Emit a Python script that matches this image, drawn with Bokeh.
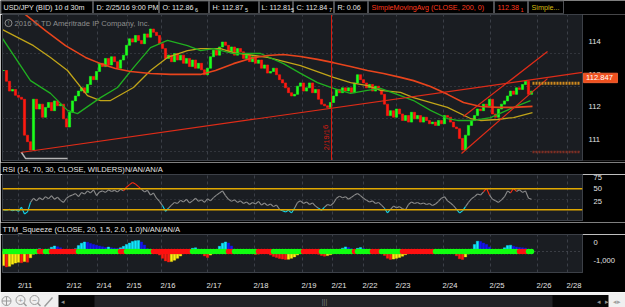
from bokeh.plotting import figure
from bokeh.layouts import column
from bokeh.models import (Range1d, LinearAxis, FixedTicker, Span, Grid,
                          NumeralTickFormatter, ColumnDataSource)
from bokeh.core.properties import value
from bokeh.embed import file_html
from bokeh.resources import INLINE

# ------------------------------------------------------------------ data
symbol_title = "USD/JPY (BID) 10 d 30m"
last_time = "D: 2/25/16 9:00 PM"
last_open, last_high, last_low = 112.866, 112.875, 112.815
last_range = 0.06
sma200_label = "SimpleMovingAvg (CLOSE, 200, 0)"

date_ticks = [18, 67, 97, 127, 161, 207, 254, 302, 332, 363, 396, 443, 490, 537, 567]
date_labels = ["2/11", "2/12", "2/14", "2/15", "2/16", "2/17", "2/18", "2/19",
               "2/21", "2/22", "2/23", "2/24", "2/25", "2/26", "2/28"]
price_ticks = [111, 112, 113, 114]
rsi_ticks = [25, 50, 75]
squeeze_ticks = [-1000, 0]

bar_start = 3      # first sampled bar index
bar_step = 3       # bars between samples

closes = [
    113.48, 113.15, 112.85, 112.90, 112.72, 112.66, 112.60, 111.50, 111.30, 111.05,
    112.60, 112.30, 112.45, 112.05, 112.35, 112.50, 112.25, 112.55, 112.40, 112.45,
    112.00, 111.75, 112.20, 112.55, 112.70, 112.85, 112.95, 112.80, 113.05, 113.30,
    113.20, 113.45, 113.70, 113.60, 113.85, 113.65, 113.90, 113.75, 113.55, 113.80,
    113.95, 114.25, 114.45, 114.35, 114.55, 114.40, 114.30, 114.60, 114.50, 114.75,
    114.65, 114.55, 114.30, 114.15, 113.85, 113.95, 113.75, 114.00, 113.80, 113.95,
    113.70, 113.85, 113.60, 113.80, 113.55, 113.70, 113.50, 113.35, 113.55, 113.90,
    114.10, 113.95, 114.20, 114.35, 114.25, 114.05, 114.20, 113.95, 114.15, 114.05,
    113.85, 113.95, 113.75, 113.90, 113.70, 113.80, 113.55, 113.65, 113.40, 113.45,
    113.55, 113.35, 113.20, 113.10, 112.95, 112.80, 112.70, 112.75, 113.00, 113.10,
    112.85, 112.95, 113.10, 112.80, 112.90, 112.60, 112.45, 112.40, 112.35, 112.50,
    112.70, 112.90, 112.80, 112.95, 112.85, 112.95, 112.80, 113.10, 113.35, 113.20,
    113.10, 112.95, 113.05, 112.85, 113.00, 112.90, 112.75, 112.45, 112.10, 112.25,
    112.05, 112.30, 112.15, 111.95, 112.10, 111.90, 112.20, 112.00, 112.10, 111.90,
    112.05, 111.95, 111.85, 111.90, 111.80, 111.95, 111.85, 112.10, 112.05, 111.90,
    111.75, 111.70, 111.40, 111.05, 111.50, 111.80, 111.95, 112.10, 112.30, 112.25,
    112.45, 112.40, 112.60, 112.15, 112.05, 112.30, 112.45, 112.55, 112.70, 112.85,
    112.75, 112.95, 112.90, 113.05, 113.15, 112.75, 112.847,
]

sma200_x = [18, 25, 45, 65, 85, 100, 115, 130, 150, 170, 200, 215, 233, 250, 267, 283,
            300, 317, 333, 350, 367, 383, 400, 413, 430, 447, 463, 480, 497, 513, 532]
sma200 = [115.40, 115.19, 114.70, 114.24, 113.88, 113.69, 113.54, 113.45, 113.39, 113.36,
          113.36, 113.48, 113.69, 113.85, 113.94, 113.97, 113.91, 113.82, 113.72, 113.60,
          113.48, 113.39, 113.27, 113.17, 112.99, 112.75, 112.50, 112.38, 112.35, 112.35, 112.381]

sma_yellow_x = [2, 33, 50, 67, 87, 100, 110, 133, 150, 167, 187, 200, 220, 233, 267, 300,
                333, 350, 367, 380, 400, 413, 447, 470, 480, 497, 513, 532]
sma_yellow = [114.73, 114.24, 113.88, 113.48, 112.71, 112.56, 112.56, 112.96, 113.48, 113.88,
              114.09, 114.15, 114.15, 114.03, 113.88, 113.63, 113.27, 113.11, 113.02, 112.87,
              112.81, 112.65, 112.35, 112.01, 111.95, 111.98, 112.04, 112.19]

sma_green_x = [2, 30, 50, 67, 77, 100, 117, 133, 150, 167, 187, 200, 213, 233, 260, 283,
               300, 317, 333, 350, 367, 380, 400, 413, 430, 447, 457, 473, 490, 513, 530]
sma_green = [114.46, 113.17, 112.78, 112.26, 112.16, 112.65, 112.96, 113.57, 114.18, 114.40,
             114.24, 114.09, 114.15, 114.00, 114.00, 113.69, 113.39, 113.11, 112.93, 112.78,
             112.87, 112.93, 112.71, 112.56, 112.26, 112.01, 111.95, 111.95, 112.04, 112.35, 112.56]

trend_x, trend_y = [20, 582], [110.97, 113.42]
chan_up_x, chan_up_y = [463, 547], [112.07, 114.06]
chan_lo_x, chan_lo_y = [461, 547], [110.94, 113.23]
marker_bar, marker_text = 331, "2/19/16"
level_x = [532, 580]
level_orange = 113.09
level_dark = 110.985

rsi = [
    30, 29, 31, 28, 30, 27, 35, 22, 26, 44, 52,
    47, 53, 49, 55, 51, 57, 50, 54, 48, 44, 52, 56,
    58, 61, 55, 63, 60, 66, 62, 68, 57, 64,
    66, 63, 68, 65, 67, 64, 69, 66,
    73, 78, 82, 79, 74,
    69, 64, 67, 58, 62, 52, 46, 38, 27, 33,
    39, 44, 42, 48, 45, 50, 43, 47, 52, 46, 49, 44, 51, 47, 53, 58, 62, 66, 57, 50,
    46, 49, 44, 47, 42, 45, 40, 44, 41, 46, 39, 43, 38, 41, 36, 39,
    31, 28, 26, 29, 24, 33,
    44, 47, 42, 45, 40, 43, 37, 33, 29, 35, 40, 38, 43,
    52, 56, 53, 55, 50, 54, 58, 61, 57,
    52, 48, 45, 47, 42, 44, 39, 33,
    24, 31, 37, 34, 36, 32, 30,
    40, 45, 42, 44, 41, 43, 40, 42, 38, 41, 46, 52, 55, 47, 43, 38, 31, 24, 28,
    36, 44, 51, 55, 60, 58, 64, 71, 58, 50, 47, 44, 49, 55, 66, 62, 71, 65, 68, 63, 66, 52, 50,
]
rsi_overbought, rsi_oversold = 70, 30

squeeze_hist = [
    -780, -850, -820, -700, -640, -600, -620, -560, -590, -350, -150,
    60, 150, 90, -30,
    120, 230, 300, 260, 200, 40,
    -60, -120,
    40, 150, 320, 450, 520, 500, 430, 380, 340, 300,
    260, 220, 240, 200, 180, 160, 200,
    280, 380, 460, 540, 590, 600, 520, 350, 150,
    30, -20, -80,
    -200, -380, -520, -580, -560, -480, -380, -250, -120, -40,
    60, 170, 200, 120,
    -80, -250, -330, -200,
    -60, 80, 280, 450, 520, 460, 300, 120,
    30, 10, -20, -40, -60,
    -120, -170, -140, -90,
    -60, -110, -200,
    -280, -340, -390, -420, -440, -430, -380, -300, -200, -90, -30,
    -20, -40, -60,
    -90, -150, -220, -260, -230, -180, -100, -30,
    60, 180, 250, 220, 150,
    60, 170, 210, 160, 60,
    -20, -80, -120, -90, -60,
    -220, -380, -440, -420, -380, -330, -260, -180, -80,
    -10, -20, -10, 0, -10, -20, -30,
    -60, -110, -90, -50,
    -20, -30, -40, -60,
    -240, -400, -440, -300, -140,
    120, 380, 560, 540, 460, 380, 250, 100,
    -40, -60,
    40, 200, 320, 340, 290, 250, 220, 200, 180, 120, 60,
]
# squeeze state runs: (1 = fired / green dot, 0 = squeeze on / red dot, number of samples)
squeeze_runs = [(1, 12), (0, 2), (1, 2), (0, 9), (1, 14), (0, 2), (1, 9), (0, 13), (1, 12),
                (0, 2), (1, 8), (0, 5), (1, 10), (0, 6), (1, 11), (0, 1), (1, 5), (0, 3),
                (1, 7), (0, 11), (1, 28), (0, 3), (1, 2)]

# ------------------------------------------------------------------ style
FONT = "Liberation Sans"
FS = "7.6px"
HFS = "7.2px"
W = 625
BG = "#000000"
PANEL = "#1a1d22"
EDGE = "#3c4047"
GRIDC = "#3b3f47"
X0, X1 = 2, 582
TXT = "#e4e4e4"

bar_x = [bar_start + bar_step * i for i in range(len(closes))]
squeeze_on = []
for state, n in squeeze_runs:
    squeeze_on += [state] * n


def make_fig(height, xr, yr, bottom, left, right, fill, outline):
    p = figure(width=W, height=height, x_range=xr, y_range=yr,
               output_backend="svg", toolbar_location=None,
               x_axis_location=None, y_axis_location=None,
               min_border_left=left, min_border_right=right,
               min_border_top=0, min_border_bottom=bottom,
               background_fill_color=fill, border_fill_color=BG,
               outline_line_color=outline)
    p.center = []          # drop the default (unattached) grids
    try:
        p.frame_align = False   # keep every panel's own frame geometry
    except Exception:
        pass
    return p


def vgrid(p):
    p.add_layout(Grid(dimension=0, ticker=FixedTicker(ticks=date_ticks),
                      grid_line_color=GRIDC, grid_line_dash="3 3", grid_line_width=1))


def hgrid(p, ticks, color="#4a4e56"):
    p.add_layout(Grid(dimension=1, ticker=FixedTicker(ticks=ticks),
                      grid_line_color=color, grid_line_dash="1 3", grid_line_width=1))


def right_labels(p, ticks, shift_px, fmt=None):
    span = p.y_range.end - p.y_range.start
    h = p.height - p.min_border_bottom
    d = shift_px * span / h
    p.extra_y_ranges = {"lbl": Range1d(p.y_range.start - d, p.y_range.end - d)}
    ax = LinearAxis(y_range_name="lbl", ticker=FixedTicker(ticks=ticks),
                    axis_line_color=None, major_tick_line_color=None,
                    minor_tick_line_color=None, major_label_text_color=TXT,
                    major_label_text_font=FONT, major_label_text_font_size=FS,
                    major_label_standoff=5)
    if fmt is not None:
        ax.formatter = fmt
    p.add_layout(ax, "right")


def strip(height, y_center, txt):
    s = make_fig(height, Range1d(0, W), Range1d(height, 0), 0, 0, 0, BG, None)
    s.text(x=[2], y=[y_center], text=[txt], text_font=value(FONT), text_font_size=FS,
           text_color=TXT, text_baseline="middle")
    return s


# ------------------------------------------------------------------ header bar
hdr = make_fig(14, Range1d(0, W), Range1d(14, 0), 0, 0, 0, BG, None)
box_l = [0.5, 93, 159, 209, 259, 293, 334, 368, 494, 528]
box_r = [92, 158, 208, 258, 292, 333, 367, 493, 527, 563]
hdr.quad(left=box_l, right=box_r, top=[0.5] * 10, bottom=[13.2] * 10,
         fill_color=BG, line_color="#4e5054", line_width=1)
RED = "#ff3a1e"
main_txt = [symbol_title, last_time, f"O: {last_open:.3f}"[:-1], f"H: {last_high:.3f}"[:-1],
            f"L: {last_low:.3f}"[:-1], f"C: {closes[-1]:.3f}"[:-1], f"R: {last_range:.2f}",
            sma200_label, f"{sma200[-1]:.3f}"[:-1], "Simple..."]
main_x = [3, 96, 162, 212, 261, 296, 337, 371, 497, 531]
main_c = [TXT] * 7 + [RED, RED, "#d8bc10"]
hdr.text(x=main_x, y=[7.3] * 10, text=main_txt, text_color=main_c, text_font=value(FONT),
         text_font_size=HFS, text_baseline="middle")
sub_txt = [f"{last_open:.3f}"[-1], f"{last_high:.3f}"[-1], f"{last_low:.3f}"[-1],
           f"{closes[-1]:.3f}"[-1], f"{sma200[-1]:.3f}"[-1]]
sub_x = [194.5, 244.5, 290.5, 328.5, 520]
sub_c = [TXT, TXT, TXT, TXT, RED]
hdr.text(x=sub_x, y=[9.3] * 5, text=sub_txt, text_color=sub_c, text_font=value(FONT),
         text_font_size="5.5px", text_baseline="middle")

# ------------------------------------------------------------------ price panel
PY0, PY1 = 110.725, 115.194
PFRAME_H = 146
upp = (PY1 - PY0) / PFRAME_H          # price units per pixel
price = make_fig(148, Range1d(X0, W), Range1d(PY0, PY1), 2, 2, 0, PANEL, None)
vgrid(price)
hgrid(price, price_ticks)

opens = [closes[0]] + closes[:-1]
cs = ColumnDataSource(dict(
    x=bar_x,
    top=[max(o, c) for o, c in zip(opens, closes)],
    bottom=[min(o, c) for o, c in zip(opens, closes)],
    color=["#1cff1c" if c >= o else "#ff1a10" for o, c in zip(opens, closes)],
))
price.vbar(x="x", width=2.2, top="top", bottom="bottom", fill_color="color",
           line_color="color", line_width=0.6, source=cs)

price.line(sma_yellow_x, sma_yellow, line_color="#c0a418", line_width=1.3)
price.line(sma_green_x, sma_green, line_color="#20b020", line_width=1.3)
price.line(sma200_x, sma200, line_color="#e8441c", line_width=1.6)

for xs, ys in [(trend_x, trend_y), (chan_up_x, chan_up_y), (chan_lo_x, chan_lo_y)]:
    price.line(xs, ys, line_color="#e02c18", line_width=1.2)

price.segment(x0=[level_x[0]], y0=[level_orange], x1=[level_x[1]], y1=[level_orange],
              line_color="#d08a1e", line_width=3, line_dash="2 1")
price.segment(x0=[level_x[0]], y0=[level_dark], x1=[level_x[1]], y1=[level_dark],
              line_color="#7e2e22", line_width=2.5, line_dash="2 1")

price.add_layout(Span(location=marker_bar, dimension="height", line_color="#d81c10",
                      line_width=1))
price.text(x=[marker_bar - 1], y=[111.43], text=[marker_text], angle=1.5708,
           text_align="center", text_baseline="bottom", text_color="#d81c10",
           text_font=value(FONT), text_font_size=FS)

# copyright line
price.scatter(x=[8], y=[114.93], marker="circle", size=7, fill_color=None,
              line_color="#8e8e8e", line_width=1)
price.text(x=[8], y=[114.93], text=["!"], text_align="center", text_baseline="middle",
           text_color="#8e8e8e", text_font=value(FONT), text_font_size="6px")
price.text(x=[14], y=[114.93], text=["2016 \u00a9 TD Ameritrade IP Company, Inc."],
           text_baseline="middle", text_color="#8e8e8e", text_font=value(FONT),
           text_font_size=FS)
# callout stub at the Feb 11 low
price.line([21, 25, 67], [110.97, 110.79, 110.79], line_color="#b4b4b4", line_width=1.5)

# price scale strip on the right (drawn above everything else)
price.quad(left=[X1], right=[W], bottom=[PY0], top=[PY1], fill_color=BG,
           line_color=None, level="overlay")
price.quad(left=[X0], right=[X1], bottom=[PY0], top=[PY1], fill_color=None,
           line_color=EDGE, line_width=1, level="overlay")
price.text(x=[X1 + 6] * len(price_ticks), y=price_ticks, y_offset=-12,
           text=[str(t) for t in price_ticks], text_color=TXT, text_font=value(FONT),
           text_font_size=FS, text_baseline="middle", level="overlay")
last = closes[-1]
price.quad(left=[X1 + 1], right=[X1 + 35], bottom=[last + 8.5 * upp],
           top=[last + 18 * upp], fill_color="#f0501e", line_color="#ff6a3a",
           line_width=0.8, level="overlay")
price.text(x=[X1 + 3.5], y=[last], y_offset=-13.3, text=[f"{last:.3f}"],
           text_color="#ffffff", text_font=value(FONT), text_font_size=FS,
           text_baseline="middle", level="overlay")

# ------------------------------------------------------------------ RSI panel
rsi_title = strip(12, 7, "RSI (14, 70, 30, CLOSE, WILDERS)N/AN/AN/A")
rsi_fig = make_fig(48, Range1d(X0, X1), Range1d(9.6, 97.2), 2, 2, 43, PANEL, EDGE)
vgrid(rsi_fig)
hgrid(rsi_fig, [50], "#3e424a")
right_labels(rsi_fig, rsi_ticks, 11)
for lvl in (rsi_overbought, rsi_oversold):
    rsi_fig.add_layout(Span(location=lvl, dimension="width", line_color="#e0a800",
                            line_width=1.5))
seg_col = []
for a, b in zip(rsi[:-1], rsi[1:]):
    if max(a, b) > rsi_overbought:
        seg_col.append("#ff2a10")
    elif min(a, b) < rsi_oversold:
        seg_col.append("#10d8f0")
    else:
        seg_col.append("#8c8c8c")
rsi_fig.segment(x0=bar_x[:-1], y0=rsi[:-1], x1=bar_x[1:], y1=rsi[1:],
                line_color=seg_col, line_width=1.1)

# ------------------------------------------------------------------ TTM squeeze panel
sq_title = strip(12, 7, "TTM_Squeeze (CLOSE, 20, 1.5, 2.0, 1.0)N/AN/AN/A")
sq = make_fig(58, Range1d(X0, X1), Range1d(-1159, 932), 12, 2, 43, PANEL, EDGE)
vgrid(sq)
hgrid(sq, [0], "#5a5e66")
right_labels(sq, squeeze_ticks, 10.5, NumeralTickFormatter(format="0,0"))

hist_col = []
prev = squeeze_hist[0]
for v in squeeze_hist:
    if v >= 0:
        hist_col.append("#10e8ff" if v >= prev else "#1414f0")
    else:
        hist_col.append("#ff1a10" if v < prev else "#ffee10")
    prev = v
sq.vbar(x=bar_x, width=2.4, top=squeeze_hist, bottom=0, fill_color=hist_col,
        line_color=hist_col, line_width=0.4)
sq.scatter(x=bar_x, y=[0] * len(bar_x), size=5.5, marker="circle",
           fill_color=["#10ff10" if s else "#ff1010" for s in squeeze_on],
           line_color=None)

sq.extra_x_ranges = {"dl": Range1d(X0 - 6.5, X1 - 6.5)}
xa = LinearAxis(x_range_name="dl", ticker=FixedTicker(ticks=date_ticks),
                major_label_overrides={t: l for t, l in zip(date_ticks, date_labels)},
                axis_line_color=None, major_tick_line_color=None,
                minor_tick_line_color=None, major_label_text_color=TXT,
                major_label_text_font=FONT, major_label_text_font_size=FS,
                major_label_standoff=2)
sq.add_layout(xa, "below")

# ------------------------------------------------------------------ footer (tool strip)
ft = make_fig(15, Range1d(0, W), Range1d(15, 0), 0, 0, 0, "#f0f0f0", None)
ft.border_fill_color = "#f0f0f0"
ft.quad(left=[58], right=[608], top=[2.5], bottom=[15], fill_color="#060606", line_color=None)
ft.quad(left=[94], right=[552], top=[3], bottom=[14.5], fill_color="#222326", line_color=None)
ft.text(x=[324, 62, 598, 606, 616], y=[9] * 5,
        text=["|||", "\u25c2", "\u25c2", "\u25b8", "\u25c2\u25b8"],
        text_align="center", text_baseline="middle",
        text_color=["#808080", "#909090", "#909090", "#909090", "#a0a0a0"],
        text_font=value(FONT), text_font_size="7px")
ft.scatter(x=[6], y=[8.5], marker="circle_cross", size=9, fill_color=None,
           line_color="#9a9a9a", line_width=1)
ft.scatter(x=[20, 34], y=[7.5, 7.5], marker="circle", size=9, fill_color=None,
           line_color="#9a9a9a", line_width=1)
ft.text(x=[20, 34], y=[7.5, 7.5], text=["+", "\u2212"], text_align="center",
        text_baseline="middle", text_color="#9a9a9a", text_font=value(FONT),
        text_font_size="8px")
ft.segment(x0=[23, 37, 44], y0=[10.5, 10.5, 14], x1=[26, 40, 52], y1=[13.5, 13.5, 5],
           line_color="#9a9a9a", line_width=1.4)

layout = column(hdr, price, rsi_title, rsi_fig, sq_title, sq, ft, spacing=0)
with open("out.html", "w") as f:
    f.write(file_html(layout, INLINE))
